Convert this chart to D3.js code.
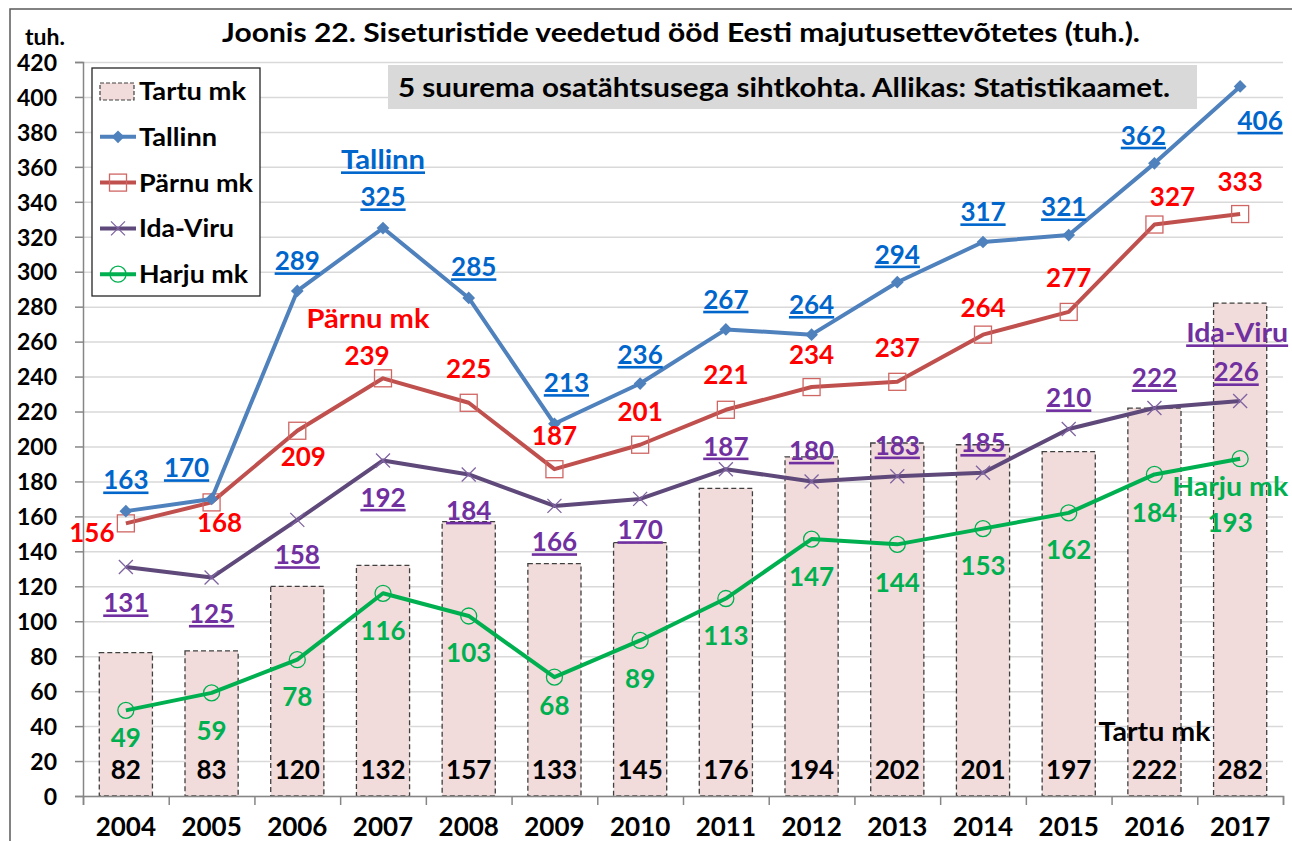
<!DOCTYPE html>
<html>
<head>
<meta charset="utf-8">
<script src="https://cdn.jsdelivr.net/npm/d3@7"></script>
<style>
  body { margin: 0; background: #fff; }
  svg text { font-family: Lato, "Open Sans", sans-serif; font-weight: bold; }
</style>
</head>
<body>
<svg id="chart" width="1292" height="841"></svg>
<script>
// Andmed
const years = ["2004","2005","2006","2007","2008","2009","2010","2011","2012","2013","2014","2015","2016","2017"]
const tartu = [82, 83, 120, 132, 157, 133, 145, 176, 194, 202, 201, 197, 222, 282]
const tallinn = [163, 170, 289, 325, 285, 213, 236, 267, 264, 294, 317, 321, 362, 406]
const parnu = [156, 168, 209, 239, 225, 187, 201, 221, 234, 237, 264, 277, 327, 333]
const idaViru = [131, 125, 158, 192, 184, 166, 170, 187, 180, 183, 185, 210, 222, 226]
const harju = [49, 59, 78, 116, 103, 68, 89, 113, 147, 144, 153, 162, 184, 193]
const yTicks = [0, 20, 40, 60, 80, 100, 120, 140, 160, 180, 200, 220, 240, 260, 280, 300, 320, 340, 360, 380, 400, 420]

// Siltide nihked punkti suhtes (px)
const tallinnDx = [0, -25, 0, 0, 5, 12, 0, 0, 0, 0, 0, -5, -11, 20]
const tallinnDy = [-31, -31, -30, -31, -31, -41, -29, -30, -30, -28, -30, -28, -28, 34]
const parnuDx = [-34, 8, 6, -16, 0, 0, 0, 0, 0, 0, 0, 0, 18, 0]
const parnuDy = [9, 20, 26, -23, -34, -34, -33, -35, -32, -34, -27, -34, -28, -32]
const idaDx = [0, 0, 0, 0, 0, 0, 0, 0, 0, 0, 0, 0, 0, -4]
const idaDy = [36, 36, 35, 37, 36, 36, 31, -23, -31, -31, -30, -31, -30, -29]
const harjuDx = [0, 0, 0, 0, 0, 0, 0, 0, 0, 0, 0, 0, 0, -10]
const harjuDy = [27, 38, 37, 37, 37, 28, 38, 37, 38, 38, 37, 37, 38, 64]

const dims = { left: 83, right: 1283, top: 62, bottom: 796 }

const svg = d3.select("#chart")

// Raam
svg.append("rect")
  .attr("x", 10).attr("y", 9)
  .attr("width", 1400).attr("height", 900)
  .attr("fill", "#fff")
  .attr("stroke", "#595959")
  .attr("stroke-width", 1.5)

// Skaalad
const xScale = d3.scaleBand()
  .domain(years)
  .range([dims.left, dims.right])
  .paddingInner(0.38)
  .paddingOuter(0.19)
const cx = d => xScale(d) + xScale.bandwidth() / 2

const yScale = d3.scaleLinear()
  .domain([0, 420])
  .range([dims.bottom, dims.top])

// Ruudustik
const grid = svg.append("g")
  .attr("transform", `translate(${dims.left},0)`)
  .call(d3.axisLeft(yScale).tickValues(yTicks).tickSize(-(dims.right - dims.left)).tickFormat(""))
grid.select(".domain").remove()
grid.selectAll("line").attr("stroke", "#d9d9d9").attr("stroke-width", 1.5)

// Tulbad (Tartu mk)
svg.append("g").selectAll("rect")
  .data(years)
  .join("rect")
  .attr("x", d => xScale(d))
  .attr("y", (d, i) => yScale(tartu[i]))
  .attr("width", xScale.bandwidth())
  .attr("height", (d, i) => yScale(0) - yScale(tartu[i]))
  .attr("fill", "#f2dcdb")
  .attr("stroke", "#404040")
  .attr("stroke-width", 1.3)
  .attr("stroke-dasharray", "5 3")

// Teljed
const yAxis = svg.append("g")
  .attr("transform", `translate(${dims.left},0)`)
  .call(d3.axisLeft(yScale).tickValues(yTicks).tickSize(8).tickPadding(18))
yAxis.select(".domain").attr("stroke", "#868686").attr("stroke-width", 1.5)
yAxis.selectAll("line").attr("stroke", "#868686").attr("stroke-width", 1.5)
yAxis.selectAll("text").attr("font-size", 23).attr("fill", "#000").attr("dy", "0.36em")

const boundary = d3.scaleLinear().domain([0, years.length]).range([dims.left, dims.right])
const xTicks = svg.append("g")
  .attr("transform", `translate(0,${dims.bottom})`)
  .call(d3.axisBottom(boundary).tickValues(d3.range(0, years.length + 1)).tickSize(9).tickFormat(""))
xTicks.select(".domain").attr("stroke", "#868686").attr("stroke-width", 1.5)
xTicks.selectAll("line").attr("stroke", "#868686").attr("stroke-width", 1.5)

const xAxis = svg.append("g")
  .attr("transform", `translate(0,${dims.bottom})`)
  .call(d3.axisBottom(xScale).tickSize(0))
xAxis.select(".domain").remove()
xAxis.selectAll("text")
  .attr("y", 40).attr("dy", 0)
  .attr("font-size", 26).attr("fill", "#000")

// Joonte seeriad
const series = [
  { name: "Tallinn", values: tallinn, line: "#4f81bd", label: "#0066cc", dx: tallinnDx, dy: tallinnDy, underline: true, marker: "diamond" },
  { name: "Pärnu mk", values: parnu, line: "#c0504d", label: "#ff0000", dx: parnuDx, dy: parnuDy, underline: false, marker: "square" },
  { name: "Ida-Viru", values: idaViru, line: "#5f497a", label: "#7030a0", dx: idaDx, dy: idaDy, underline: true, marker: "cross" },
  { name: "Harju mk", values: harju, line: "#00b050", label: "#00b050", dx: harjuDx, dy: harjuDy, underline: false, marker: "circle" }
]

function drawMarker(g, type) {
  if (type === "diamond") {
    g.append("rect").attr("x", -4.5).attr("y", -4.5).attr("width", 9).attr("height", 9)
      .attr("transform", "rotate(45)").attr("fill", "#4f81bd")
  } else if (type === "square") {
    g.append("rect").attr("x", -8.5).attr("y", -8.5).attr("width", 17).attr("height", 17)
      .attr("fill", "none").attr("stroke", "#cf6663").attr("stroke-width", 1.3)
  } else if (type === "cross") {
    g.append("path").attr("d", "M-7,-7L7,7M-7,7L7,-7")
      .attr("stroke", "#8064a2").attr("stroke-width", 1.3)
  } else {
    g.append("circle").attr("r", 8)
      .attr("fill", "none").attr("stroke", "#00b050").attr("stroke-width", 1.3)
  }
}

const lineGenerator = (vals) => d3.line()
  .x((d, i) => cx(years[i]))
  .y(d => yScale(d))(vals)

// Joonistame alt üles: Harju, Ida-Viru, Pärnu, Tallinn
series.slice().reverse().forEach(s => {
  svg.append("path")
    .attr("d", lineGenerator(s.values))
    .attr("fill", "none")
    .attr("stroke", s.line)
    .attr("stroke-width", 4)
    .attr("stroke-linejoin", "round")
  s.values.forEach((v, i) => {
    const g = svg.append("g").attr("transform", `translate(${cx(years[i])},${yScale(v)})`)
    drawMarker(g, s.marker)
  })
})

// Andmesildid
series.forEach(s => {
  svg.append("g").selectAll("text")
    .data(s.values)
    .join("text")
    .attr("x", (d, i) => cx(years[i]) + s.dx[i])
    .attr("y", (d, i) => yScale(d) + s.dy[i])
    .attr("dy", "0.36em")
    .attr("text-anchor", "middle")
    .attr("font-size", 26)
    .attr("fill", s.label)
    .style("text-decoration", s.underline ? "underline" : "none")
    .text(d => d)
})

svg.append("g").selectAll("text")
  .data(tartu)
  .join("text")
  .attr("x", (d, i) => cx(years[i]))
  .attr("y", 770)
  .attr("dy", "0.36em")
  .attr("text-anchor", "middle")
  .attr("font-size", 26)
  .attr("fill", "#000")
  .text(d => d)

// Seeriate nimed
const nameLabels = [
  { text: "Tallinn", year: "2007", value: 325, dx: 0, dy: -68, color: "#0066cc", underline: true, w: 84 },
  { text: "Pärnu mk", year: "2007", value: 239, dx: -15, dy: -60, color: "#ff0000", underline: false, w: 123 },
  { text: "Ida-Viru", year: "2017", value: 226, dx: -3, dy: -68, color: "#7030a0", underline: true, w: 102 },
  { text: "Harju mk", year: "2017", value: 193, dx: -10, dy: 28, color: "#00b050", underline: false, w: 116 }
]
nameLabels.forEach(n => {
  svg.append("text")
    .attr("x", cx(n.year) + n.dx)
    .attr("y", yScale(n.value) + n.dy)
    .attr("dy", "0.36em")
    .attr("text-anchor", "middle")
    .attr("font-size", 26)
    .attr("fill", n.color)
    .attr("textLength", n.w)
    .attr("lengthAdjust", "spacingAndGlyphs")
    .style("text-decoration", n.underline ? "underline" : "none")
    .text(n.text)
})
svg.append("text")
  .attr("x", cx("2016"))
  .attr("y", 732)
  .attr("dy", "0.36em")
  .attr("text-anchor", "middle")
  .attr("font-size", 26)
  .attr("fill", "#000")
  .attr("textLength", 112)
  .attr("lengthAdjust", "spacingAndGlyphs")
  .text("Tartu mk")

// Pealkirjad
svg.append("text")
  .attr("x", 222).attr("y", 42)
  .attr("font-size", 26)
  .attr("textLength", 918)
  .attr("lengthAdjust", "spacingAndGlyphs")
  .text("Joonis 22. Siseturistide veedetud ööd Eesti majutusettevõtetes (tuh.).")

svg.append("text")
  .attr("x", 45).attr("y", 45)
  .attr("text-anchor", "middle")
  .attr("font-size", 23)
  .text("tuh.")

svg.append("rect")
  .attr("x", 388).attr("y", 65)
  .attr("width", 809).attr("height", 44)
  .attr("fill", "#d9d9d9")
svg.append("text")
  .attr("x", 398).attr("y", 97)
  .attr("font-size", 26)
  .attr("textLength", 772)
  .attr("lengthAdjust", "spacingAndGlyphs")
  .text("5 suurema osatähtsusega sihtkohta. Allikas: Statistikaamet.")

// Legend
const legend = svg.append("g")
legend.append("rect")
  .attr("x", 92).attr("y", 68)
  .attr("width", 168).attr("height", 228)
  .attr("fill", "#fff")
  .attr("stroke", "#262626")
  .attr("stroke-width", 1.3)

const legendItems = ["Tartu mk"].concat(series.map(s => s.name))
const legendWidths = [107, 78, 114, 95, 109]
legendItems.forEach((name, i) => {
  const ly = 91 + i * 45.8
  if (i === 0) {
    legend.append("rect")
      .attr("x", 100).attr("y", ly - 8).attr("width", 34).attr("height", 17)
      .attr("fill", "#f2dcdb").attr("stroke", "#404040")
      .attr("stroke-width", 1.2).attr("stroke-dasharray", "4 2")
  } else {
    const s = series[i - 1]
    legend.append("line")
      .attr("x1", 100).attr("x2", 136).attr("y1", ly).attr("y2", ly)
      .attr("stroke", s.line).attr("stroke-width", 4)
    drawMarker(legend.append("g").attr("transform", `translate(118,${ly})`), s.marker)
  }
  legend.append("text")
    .attr("x", 139).attr("y", ly)
    .attr("dy", "0.36em")
    .attr("font-size", 25)
    .attr("textLength", legendWidths[i])
    .attr("lengthAdjust", "spacingAndGlyphs")
    .text(name)
})
</script>
</body>
</html>
